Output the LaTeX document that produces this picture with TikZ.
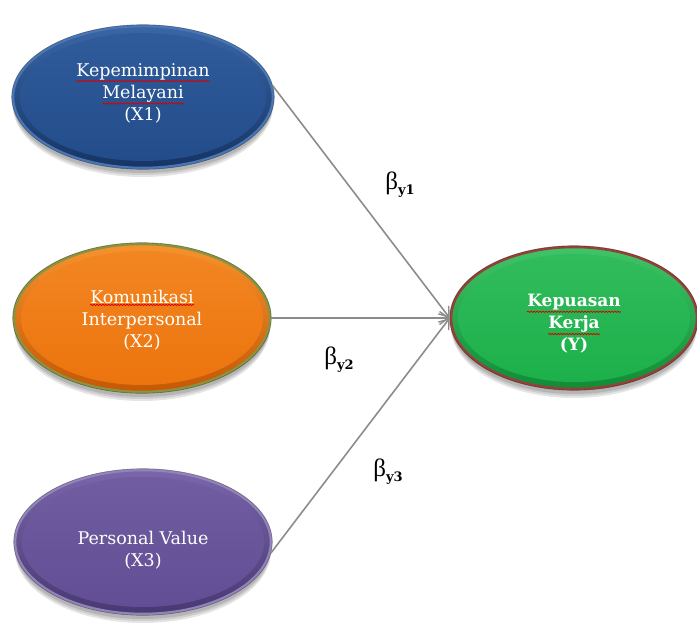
\documentclass[tikz,border=0pt]{standalone}
\usepackage{fontspec}
\setmainfont{DejaVu Serif}
\newfontfamily\greekfont{Liberation Serif}
\usetikzlibrary{arrows.meta,shapes.geometric,decorations.pathmorphing,calc}

\definecolor{blueBase}{RGB}{34,76,138}
\definecolor{blueLight}{RGB}{58,102,166}
\definecolor{blueDark}{RGB}{22,52,100}
\definecolor{blueRim}{RGB}{74,118,180}
\definecolor{orangeBase}{RGB}{236,116,14}
\definecolor{orangeLight}{RGB}{246,146,46}
\definecolor{orangeDark}{RGB}{196,88,6}
\definecolor{orangeRim}{RGB}{138,148,62}
\definecolor{purpleBase}{RGB}{98,78,148}
\definecolor{purpleLight}{RGB}{122,102,170}
\definecolor{purpleDark}{RGB}{72,56,114}
\definecolor{purpleRim}{RGB}{146,132,186}
\definecolor{greenBase}{RGB}{28,176,74}
\definecolor{greenLight}{RGB}{64,196,104}
\definecolor{greenDark}{RGB}{16,140,54}
\definecolor{greenRim}{RGB}{150,64,58}
\definecolor{linkGray}{RGB}{140,140,140}

% word with a red wavy underline
\newcommand{\spl}[1]{\tikz[baseline=(w.base)]{\node[inner sep=0pt] (w) {#1};
  \draw[red!85!black, line width=0.8pt, decorate,
    decoration={snake, amplitude=0.6pt, segment length=3pt}]
    ([yshift=-1.2pt]w.south west) -- ([yshift=-1.2pt]w.south east);}}
% beta with a bold subscript, for the path coefficients
\newcommand{\cf}[1]{{\greekfont β}\raisebox{-0.4ex}{\fontsize{13}{13}\selectfont\bfseries #1}}

% glossy bevelled ellipse: name, centre, x radius, y radius, colour prefix
\newcommand{\gloss}[5]{%
  \foreach \o/\s in {0.10/9, 0.10/7, 0.12/5}
    \fill[black, opacity=\o] ($(#2)+(0,\s)$) ellipse [x radius=#3pt, y radius=#4pt];
  \node[ellipse, minimum width=2*#3pt, minimum height=2*#4pt, inner sep=0pt,
    draw=#5Rim, line width=2.6pt, top color=#5Light, bottom color=#5Dark] (#1) at (#2) {};
  \shade[top color=#5Light!60!#5Base, bottom color=#5Base]
    (#2) ellipse [x radius={#3pt-7pt}, y radius={#4pt-7pt}];
  \draw[black, opacity=0.35, line width=0.6pt] (#2) ellipse [x radius={#3pt+1.3pt}, y radius={#4pt+1.3pt}];
}

\begin{document}
\begin{tikzpicture}[x=1pt, y=-1pt,
  lbl/.style={text=white, align=center, inner sep=0pt,
    font=\fontsize{17.5}{22}\selectfont},
  coef/.style={text=black, inner sep=0pt, font=\fontsize{25}{25}\selectfont},
  link/.style={draw=linkGray, line width=1.6pt,
    -{Straight Barb[length=9pt, width=13pt, line width=1.4pt]}}]
\useasboundingbox (0,0) rectangle (697,623);

\gloss{X1}{143,97}{130}{71}{blue}
\gloss{X2}{142,318}{128}{74}{orange}
\gloss{X3}{143,542}{128}{72}{purple}
\gloss{Y}{574,318}{123}{71}{green}

\node[lbl] (t1) at (143,93) {\spl{Kepemimpinan}\\\spl{Melayani}\\(X1)};
\node[lbl] (t2) at (142,320) {\spl{Komunikasi}\\Interpersonal\\(X2)};
\node[lbl] (t3) at (143,550) {Personal Value\\(X3)};
\node[lbl, font=\fontsize{17}{22}\selectfont\bfseries] (t4) at (574,324)
  {\spl{Kepuasan}\\\spl{Kerja}\\(Y)};

\draw[link] (X1.5) -- (Y.west);
\draw[link] (X2.east) -- (Y.west);
\draw[link] (X3.-5) -- (Y.west);

\node[coef] (b1) at (400,185) {\cf{y1}};
\node[coef] (b2) at (339,360) {\cf{y2}};
\node[coef] (b3) at (388,472) {\cf{y3}};
\end{tikzpicture}
\end{document}
